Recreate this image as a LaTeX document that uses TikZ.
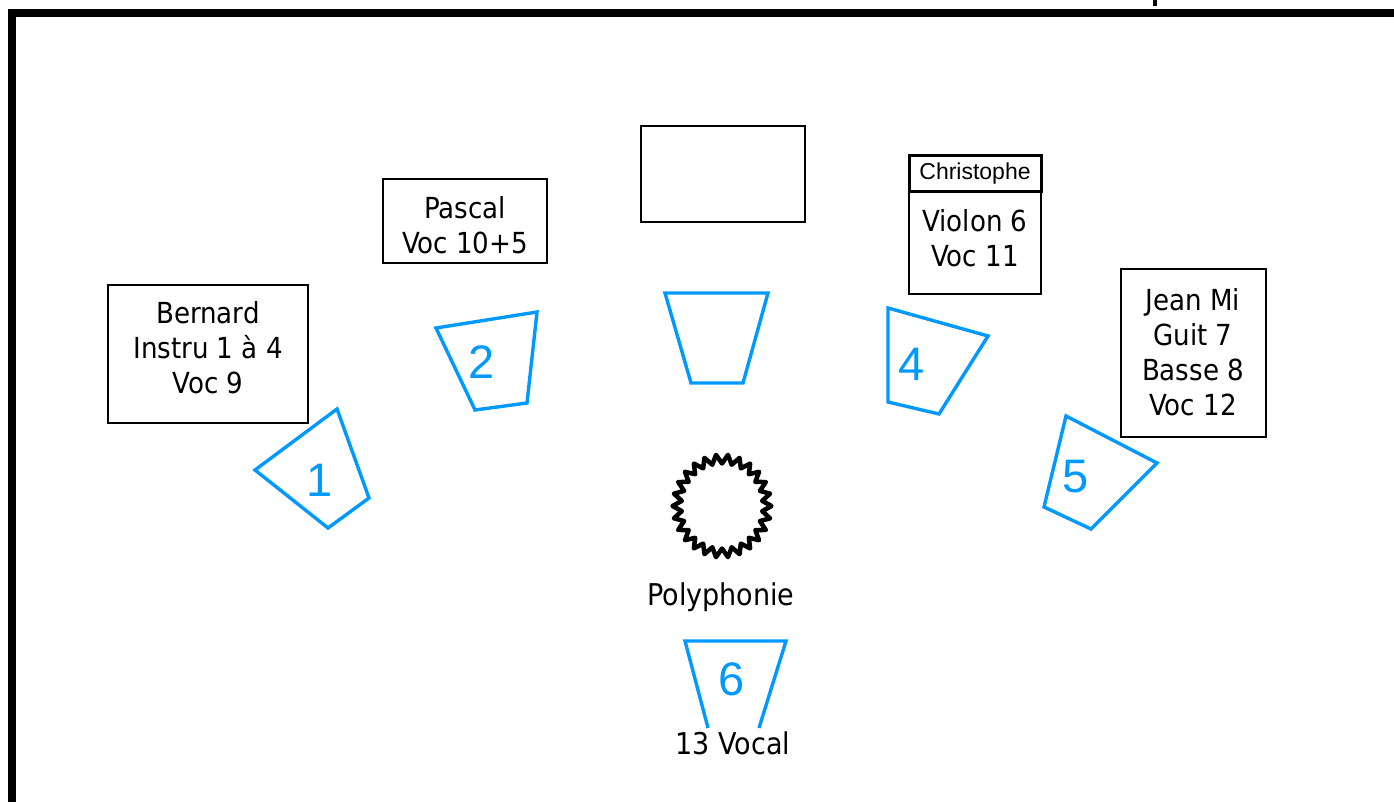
\documentclass[tikz,border=0pt]{standalone}
\usepackage{fontspec}
\setmainfont{DejaVu Sans Condensed}
\newfontfamily\arialf{Liberation Sans}
\definecolor{monblue}{RGB}{0,153,255}
\tikzset{
  box/.style={draw=black, line width=2pt, fill=white, inner sep=0pt},
  txt/.style={align=center, inner sep=0pt, font=\fontsize{29}{35}\selectfont},
  mon/.style={draw=monblue, line width=3.4pt, line join=miter},
  num/.style={text=monblue, inner sep=0pt, font=\arialf\fontsize{47}{50}\selectfont},
}
\begin{document}
\begin{tikzpicture}[x=1pt,y=-1pt]
\useasboundingbox (0,0) rectangle (1394,802);
% frame
\draw[line width=8pt, line cap=butt, line join=miter] (12,802) -- (12,13) -- (1394,13);
\fill (1153,0) rectangle (1157,6);

% boxes
\node[box, minimum width=200pt, minimum height=138pt] (bernard) at (208,354) {};
\node[txt] (bernardT) at (208,348) {Bernard\\Instru 1 à 4\\Voc 9};

\node[box, minimum width=164pt, minimum height=84pt] (pascal) at (465,221) {};
\node[txt] (pascalT) at (465,225) {Pascal\\Voc 10+5};

\node[box, minimum width=164pt, minimum height=96pt] (empty) at (723,174) {};

\node[box, minimum width=132pt, minimum height=138pt] (chris) at (975,225) {};
\node[draw=black, line width=3pt, minimum width=132pt, minimum height=36pt, inner sep=0pt,
      font=\arialf\fontsize{23}{26}\selectfont] (chrisN) at (975,174) {Christophe};
\node[txt] (chrisT) at (975,238) {Violon 6\\Voc 11};

\node[box, minimum width=145pt, minimum height=168pt] (jeanmi) at (1193.5,353) {};
\node[txt] (jeanmiT) at (1193,352) {Jean Mi\\Guit 7\\Basse 8\\Voc 12};

% monitors
\draw[mon] (255,470) -- (337,409) -- (369,498) -- (328,528) -- cycle;
\node[num] (n1) at (320,480) {1};
\draw[mon] (436,328) -- (537,312) -- (527,403) -- (475,410) -- cycle;
\node[num] (n2) at (482,362) {2};
\draw[mon] (665,293) -- (768,293) -- (743,383) -- (691,383) -- cycle;
\draw[mon] (888,308) -- (988,336) -- (939,414) -- (888,402) -- cycle;
\node[num] (n4) at (912,364) {4};
\draw[mon] (1066,416) -- (1157,463) -- (1091,529) -- (1044,507) -- cycle;
\node[num] (n5) at (1076,477) {5};
\draw[mon, line cap=butt] (708,728) -- (685,641) -- (786,641) -- (759,728);
\node[num] (n6) at (732,679) {6};

% polyphonie star
\draw[line width=4.5pt, line join=round]
  plot[domain=0:360, samples=53] ({722+(45+4.5*cos(\x*26))*cos(\x)}, {506+(47+4.5*cos(\x*26))*sin(\x)}) -- cycle;
\node[txt, font=\fontsize{30}{34}\selectfont] (poly) at (721,597) {Polyphonie};
\node[txt, font=\fontsize{30}{34}\selectfont] (vocal) at (733,743) {13 Vocal};
\end{tikzpicture}
\end{document}
